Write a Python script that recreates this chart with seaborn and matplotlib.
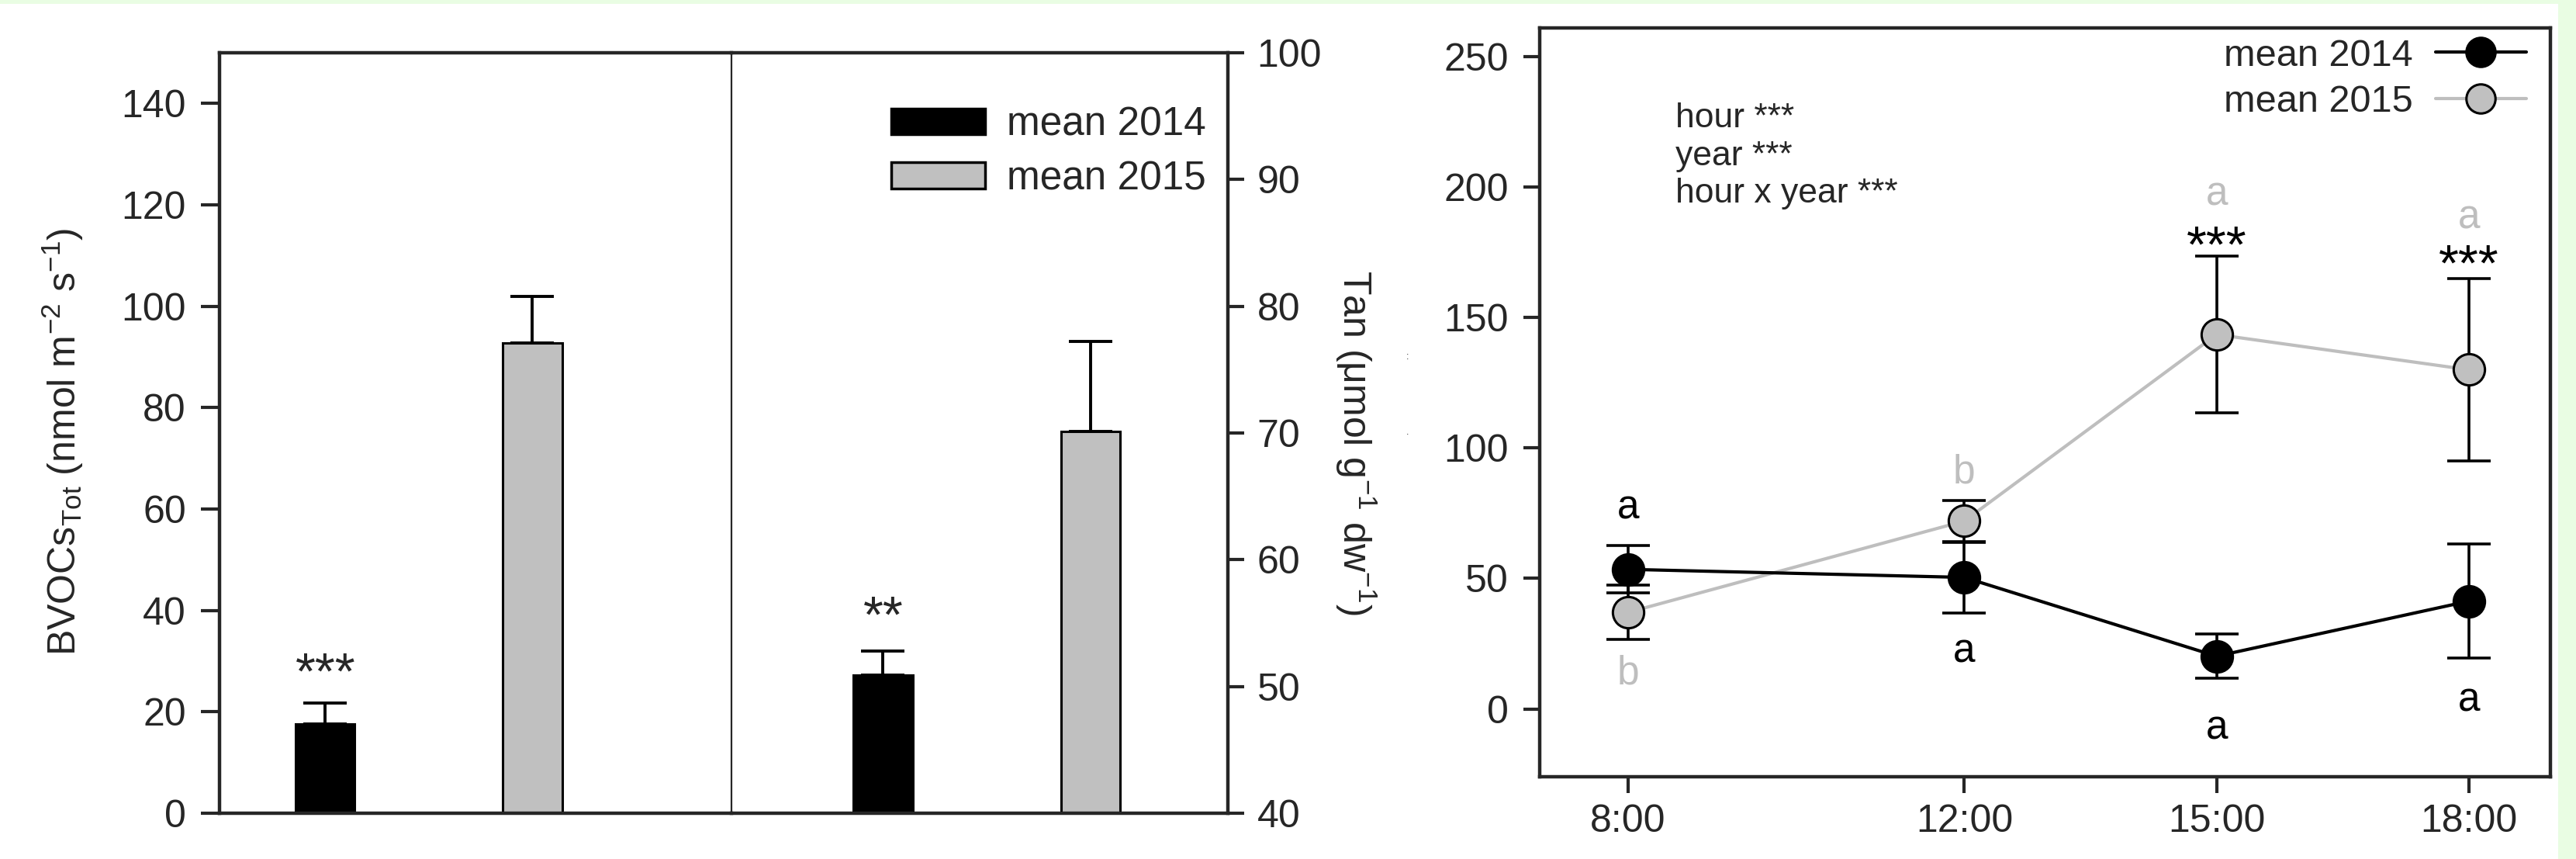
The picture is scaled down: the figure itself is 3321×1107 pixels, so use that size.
import matplotlib
matplotlib.use("Agg")
import numpy as np
import pandas as pd
import matplotlib.pyplot as plt
import seaborn as sns
from matplotlib.patches import Patch, Rectangle
from matplotlib.lines import Line2D

sns.set_style("ticks")
plt.rcParams['font.family'] = ['Liberation Sans', 'DejaVu Sans']
plt.rcParams['mathtext.fontset'] = 'custom'
plt.rcParams['mathtext.rm'] = 'Liberation Sans'
plt.rcParams['mathtext.it'] = 'Liberation Sans:italic'
plt.rcParams['mathtext.default'] = 'regular'

# ==========================
# DATA
# ==========================
years = ['2014', '2015']
bvoc_mean = [17.6, 92.8]
bvoc_se = [4.1, 9.2]
tan_mean = [50.9, 70.1]
tan_se = [1.9, 7.1]
bvoc_sig = '***'
tan_sig = '**'

hours = [8, 12, 15, 18]
hour_labels = ['8:00', '12:00', '15:00', '18:00']
mean_2014 = [53.5, 50.4, 20.2, 41.3]
se_2014 = [9.0, 13.5, 8.5, 21.8]
mean_2015 = [37.0, 72.0, 143.5, 130.0]
se_2015 = [10.5, 8.0, 30.0, 35.0]
letters_2014 = ['a', 'a', 'a', 'a']
letters_2015 = ['b', 'b', 'a', 'a']
stars_hour = ['', '', '***', '***']
anova_lines = ['hour ***', 'year ***', 'hour x year ***']

# text placement (data units, baseline)
letters_2014_y = [73, 18, -11.5, -1]
letters_2015_y = [9.5, 86.5, 193, 184]
stars_hour_y = [0, 0, 171.4, 164.3]
anova_y = [223, 208.5, 194]

BLACK = 'black'
GREY = '#c0c0c0'
GREY_LINE = '#bebebe'
FS = 36
STAR_FS = 48

fig = plt.figure(figsize=(33.21, 11.07), dpi=100, facecolor='#e9fde3')
fig.add_artist(Rectangle((0, 0), 3298 / 3321, 1 - 5 / 1107, transform=fig.transFigure,
                         facecolor='white', edgecolor='none', zorder=0))

# ==========================
# LEFT PANEL: BVOCs bars
# ==========================
axL = fig.add_axes([283 / 3321, 1 - 1048 / 1107, 660 / 3321, 980 / 1107])
sns.barplot(x=years, y=bvoc_mean, hue=years, palette=[BLACK, GREY], legend=False,
            width=0.285, edgecolor='black', linewidth=2.2, errorbar=None, ax=axL)
axL.errorbar(np.arange(len(years)), bvoc_mean, yerr=[[0] * len(years), bvoc_se], fmt='none',
             ecolor='black', elinewidth=2.8, capsize=20, capthick=2.8, zorder=0.5)
axL.text(0, 24.6, bvoc_sig, ha='center', va='baseline', fontsize=STAR_FS)
axL.set_xlim(-0.51, 1.96)
axL.set_ylim(0, 150)
axL.set_yticks(range(0, 141, 20))
axL.set_xticks([])
axL.set_xlabel('')
axL.set_ylabel('')
axL.tick_params(axis='y', length=17, width=3, labelsize=FS, pad=14)
for s in ['left', 'top', 'bottom']:
    axL.spines[s].set_linewidth(3.2)
axL.spines['right'].set_linewidth(1.6)

# ==========================
# LEFT PANEL: tannin bars
# ==========================
axT = fig.add_axes([943 / 3321, 1 - 1048 / 1107, 640 / 3321, 980 / 1107])
axT.patch.set_alpha(0)
sns.barplot(x=years, y=tan_mean, hue=years, palette=[BLACK, GREY], legend=False,
            width=0.285, edgecolor='black', linewidth=2.2, errorbar=None, ax=axT)
axT.errorbar(np.arange(len(years)), tan_mean, yerr=[[0] * len(years), tan_se], fmt='none',
             ecolor='black', elinewidth=2.8, capsize=20, capthick=2.8, zorder=0.5)
axT.text(0, 54.3, tan_sig, ha='center', va='baseline', fontsize=STAR_FS)
axT.set_xlim(-0.73, 1.66)
axT.set_ylim(40, 100)
axT.set_yticks(range(40, 101, 10))
axT.set_xticks([])
axT.set_xlabel('')
axT.set_ylabel('')
axT.yaxis.tick_right()
axT.tick_params(axis='y', length=15, width=3, labelsize=FS, pad=12)
axT.spines['left'].set_visible(False)
for s in ['right', 'top', 'bottom']:
    axT.spines[s].set_linewidth(3.2)

bar_handles = [Patch(facecolor=BLACK, edgecolor='black', linewidth=2.5, label='mean ' + years[0]),
               Patch(facecolor=GREY, edgecolor='black', linewidth=2.5, label='mean ' + years[1])]
axT.legend(handles=bar_handles, loc='upper left', bbox_to_anchor=(0.322, 0.930),
           frameon=False, fontsize=37, borderpad=0, borderaxespad=0,
           handlelength=2.35, handleheight=0.62, handletextpad=0.55, labelspacing=0.4)

fig.text(81 / 3321, 0.486, r'BVOCs$_{Tot}$ (nmol m$^{-2}$ s$^{-1}$)', rotation=90,
         ha='center', va='center', fontsize=FS)
fig.text(1748 / 3321, 0.485, r'Tan ($\mu$mol g$^{-1}$ dw$^{-1}$)', rotation=270,
         ha='center', va='center', fontsize=FS)
fig.text(1815 / 3321, 1 - 460 / 1107, ':', ha='center', va='center', fontsize=9)
fig.text(1815 / 3321, 1 - 557 / 1107, '.', ha='center', va='center', fontsize=9)

# ==========================
# RIGHT PANEL: daily course
# ==========================
df = pd.DataFrame({
    'hour': hours * 2,
    'value': mean_2014 + mean_2015,
    'year': [years[0]] * len(hours) + [years[1]] * len(hours),
})

axP = fig.add_axes([1985 / 3321, 1 - 1001 / 1107, 1303 / 3321, 965 / 1107])
axP.errorbar(hours, mean_2015, yerr=se_2015, fmt='none', ecolor='black',
             elinewidth=2.6, capsize=20, capthick=2.6, zorder=1)
axP.errorbar(hours, mean_2014, yerr=se_2014, fmt='none', ecolor='black',
             elinewidth=2.6, capsize=20, capthick=2.6, zorder=1)
sns.lineplot(data=df, x='hour', y='value', hue='year', hue_order=[years[1], years[0]],
             palette={years[0]: BLACK, years[1]: GREY_LINE}, marker='o', markersize=29,
             markeredgecolor='black', markeredgewidth=2.2, linewidth=3, errorbar=None,
             legend=False, ax=axP, zorder=3)
# grey marker face a touch darker than the line
for ln in axP.lines:
    if ln.get_color() == GREY_LINE:
        ln.set_markerfacecolor(GREY)

for h, lab, y in zip(hours, letters_2014, letters_2014_y):
    axP.text(h, y, lab, ha='center', va='baseline', fontsize=37, color='black')
for h, lab, y in zip(hours, letters_2015, letters_2015_y):
    axP.text(h, y, lab, ha='center', va='baseline', fontsize=37, color=GREY_LINE)
for h, lab, y in zip(hours, stars_hour, stars_hour_y):
    if lab:
        axP.text(h, y, lab, ha='center', va='baseline', fontsize=STAR_FS, color='black')
for lab, y in zip(anova_lines, anova_y):
    axP.text(8.56, y, lab, ha='left', va='baseline', fontsize=32)

line_handles = [Line2D([], [], color=BLACK, lw=3, marker='o', markersize=27,
                       markerfacecolor=BLACK, markeredgecolor='black', markeredgewidth=2.2,
                       label='mean ' + years[0]),
                Line2D([], [], color=GREY_LINE, lw=3, marker='o', markersize=27,
                       markerfacecolor=GREY, markeredgecolor='black', markeredgewidth=2.2,
                       label='mean ' + years[1])]
axP.legend(handles=line_handles, loc='upper right', bbox_to_anchor=(0.976, 0.986),
           frameon=False, fontsize=35, borderpad=0, borderaxespad=0, markerfirst=False,
           handlelength=2.4, handletextpad=0.6, labelspacing=0.3)

axP.set_xlim(6.95, 18.97)
axP.set_ylim(-26, 261)
axP.set_xticks(hours)
axP.set_xticklabels(hour_labels)
axP.set_yticks(range(0, 251, 50))
axP.set_xlabel('')
axP.set_ylabel('')
axP.tick_params(axis='both', length=15, width=3, labelsize=FS)
axP.tick_params(axis='y', pad=14)
axP.tick_params(axis='x', pad=10)
for s in axP.spines.values():
    s.set_visible(True)
    s.set_linewidth(3.2)

fig.savefig('out.png', dpi=100, facecolor=fig.get_facecolor())
